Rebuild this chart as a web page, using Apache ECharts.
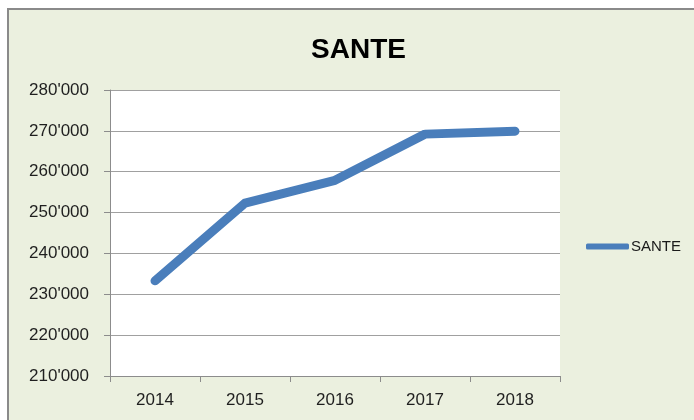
<!DOCTYPE html>
<html>
<head>
  <meta charset="utf-8">
  <script src="https://cdn.jsdelivr.net/npm/echarts@6/dist/echarts.min.js"></script>
  <style>
    html, body { margin: 0; padding: 0; background: #fff; }
  </style>
</head>
<body>
<div id="main" style="width: 694px; height: 420px"></div>
<script>
  const years = ['2014', '2015', '2016', '2017', '2018'];
  const sante = [233300, 252300, 257900, 269200, 269900];
  const yMin = 210000, yMax = 280000, yStep = 10000;

  const font = "'Liberation Sans', sans-serif";
  const fmt = v => Math.floor(v / 1000) + "'" + String(v % 1000).padStart(3, '0');

  const myChart = echarts.init(document.getElementById('main'));
  myChart.setOption({
    backgroundColor: '#fff',
    animation: false,
    graphic: [{
      type: 'rect',
      z: -10,
      shape: { x: 8, y: 9, width: 700, height: 420 },
      style: { fill: '#EBF0DF', stroke: '#8a8a8a', lineWidth: 2 }
    }],
    title: {
      text: 'SANTE',
      left: 353.5,
      top: 31,
      textAlign: 'center',
      textStyle: { fontFamily: font, fontSize: 28, fontWeight: 'bold', color: '#000' }
    },
    legend: {
      data: ['SANTE'],
      left: 586,
      top: 239,
      padding: 0,
      icon: 'roundRect',
      itemWidth: 43,
      itemHeight: 6,
      textStyle: { fontFamily: font, fontSize: 15, color: '#1a1a1a', padding: [0, 0, 0, -3] }
    },
    grid: {
      left: 110, right: 134, top: 90, bottom: 44,
      show: true, backgroundColor: '#fff', borderWidth: 0
    },
    xAxis: {
      type: 'category',
      data: years,
      boundaryGap: true,
      axisLine: { lineStyle: { color: '#8c8c8c', width: 1 } },
      axisTick: { show: true, length: 6, lineStyle: { color: '#8c8c8c' } },
      axisLabel: { margin: 16, fontFamily: font, fontSize: 17, color: '#1f1f1f' }
    },
    yAxis: {
      type: 'value',
      min: yMin, max: yMax, interval: yStep,
      axisLine: { show: true, lineStyle: { color: '#8c8c8c', width: 1 } },
      axisTick: { show: true, length: 6, lineStyle: { color: '#8c8c8c' } },
      splitLine: { lineStyle: { color: '#a0a0a0', width: 1 } },
      axisLabel: { margin: 21, formatter: fmt, fontFamily: font, fontSize: 17, color: '#1f1f1f' }
    },
    series: [{
      name: 'SANTE',
      type: 'line',
      data: sante,
      symbol: 'none',
      itemStyle: { color: '#4A7EBB' },
      lineStyle: { color: '#4A7EBB', width: 9, cap: 'round', join: 'round' }
    }]
  });
</script>
</body>
</html>
